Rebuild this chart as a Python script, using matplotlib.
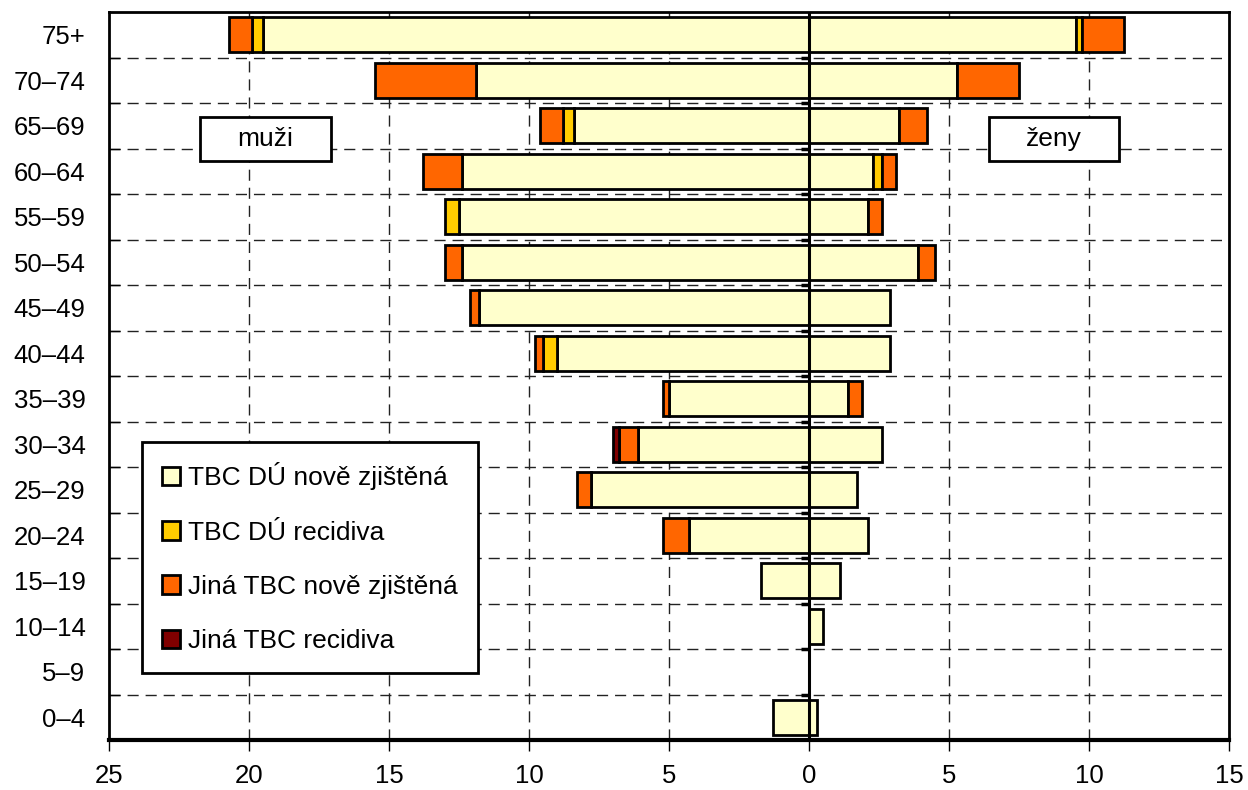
import numpy as np
from matplotlib import pyplot as plt
from matplotlib.patches import Rectangle, Patch

plt.rcParams['font.family'] = ['Liberation Sans', 'DejaVu Sans']

vek = ['0–4', '5–9', '10–14', '15–19', '20–24', '25–29', '30–34', '35–39',
       '40–44', '45–49', '50–54', '55–59', '60–64', '65–69', '70–74', '75+']

# muzi (vykresleno doleva)
m_du_nova = [1.3, 0, 0, 1.7, 4.3, 7.8, 6.1, 5.0, 9.0, 11.8, 12.4, 12.5, 12.4, 8.4, 11.9, 19.5]
m_du_rec = [0, 0, 0, 0, 0, 0, 0, 0, 0.5, 0, 0, 0.5, 0, 0.4, 0, 0.4]
m_jina_nova = [0, 0, 0, 0, 0.9, 0.5, 0.7, 0.2, 0.3, 0.3, 0.6, 0, 1.4, 0.8, 3.6, 0.8]
m_jina_rec = [0, 0, 0, 0, 0, 0, 0.2, 0, 0, 0, 0, 0, 0, 0, 0, 0]

# zeny (doprava)
z_du_nova = [0.3, 0, 0.5, 1.1, 2.1, 1.7, 2.6, 1.4, 2.9, 2.9, 3.9, 2.1, 2.3, 3.2, 5.3, 9.55]
z_du_rec = [0, 0, 0, 0, 0, 0, 0, 0, 0, 0, 0, 0, 0.3, 0, 0, 0.2]
z_jina_nova = [0, 0, 0, 0, 0, 0, 0, 0.5, 0, 0, 0.6, 0.5, 0.5, 1.0, 2.2, 1.5]
z_jina_rec = [0, 0, 0, 0, 0, 0, 0, 0, 0, 0, 0, 0, 0, 0, 0, 0]

nazvy = ['TBC DÚ nově zjištěná', 'TBC DÚ recidiva',
         'Jiná TBC nově zjištěná', 'Jiná TBC recidiva']
barvy = ['#FFFFCC', '#FFCC00', '#FF6600', '#800000']

fig = plt.figure(figsize=(12.48, 7.9), dpi=100)
ax = fig.add_axes([109/1248, 1 - 740/790, 1120/1248, 728/790])

y = np.arange(len(vek))
h = 0.77

# mrizka
for gx in [-20, -15, -10, -5, 5, 10]:
    ax.axvline(gx, color='#222222', lw=1, dashes=(8, 5), zorder=0)
for gy in np.arange(0.5, 15, 1):
    ax.axhline(gy, color='#222222', lw=1, dashes=(8, 5), zorder=0)

m_left = np.zeros(len(vek))
z_left = np.zeros(len(vek))
for serie_m, serie_z, barva in zip([m_du_nova, m_du_rec, m_jina_nova, m_jina_rec],
                                   [z_du_nova, z_du_rec, z_jina_nova, z_jina_rec],
                                   barvy):
    sm = np.array(serie_m)
    sz = np.array(serie_z)
    mask = sm > 0
    ax.barh(y[mask], -sm[mask], left=-m_left[mask], height=h, color=barva,
            edgecolor='black', linewidth=2, zorder=3)
    mask = sz > 0
    ax.barh(y[mask], sz[mask], left=z_left[mask], height=h, color=barva,
            edgecolor='black', linewidth=2, zorder=3)
    m_left += sm
    z_left += sz

ax.axvline(0, color='black', lw=2.2, zorder=4)
# drobne znacky osy y u nuly
ax.hlines(np.arange(0.5, 15, 1), -0.28, 0, color='black', lw=2.5, zorder=4)

ax.set_xlim(-25, 15)
ax.set_ylim(-0.5, 15.5)
ax.set_xticks(np.arange(-25, 16, 5))
ax.set_xticklabels([str(abs(v)) for v in range(-25, 16, 5)], fontsize=18.5)
ax.tick_params(axis='x', direction='out', length=8, width=1, pad=9)
ax.set_yticks(y)
ax.set_yticklabels(vek, fontsize=18.5)
ax.tick_params(axis='y', length=0, pad=17)
ax.set_yticks(np.arange(0.5, 15, 1), minor=True)
ax.tick_params(axis='y', which='minor', direction='in', length=8, width=1)

for s in ax.spines.values():
    s.set_linewidth(2)
ax.spines['bottom'].set_linewidth(3)

# popisky muzi / zeny
for x0, x1, txt in [(-21.75, -17.07, 'muži'), (6.43, 11.07, 'ženy')]:
    ax.add_patch(Rectangle((x0, 12.22), x1 - x0, 0.97, facecolor='white',
                           edgecolor='black', linewidth=2, zorder=5))
    ax.text((x0 + x1) / 2, 12.705, txt, fontsize=19, ha='center', va='center', zorder=6)

handles = [Patch(facecolor=b, edgecolor='black', linewidth=2) for b in barvy]
leg = ax.legend(handles, nazvy, loc='lower left', bbox_to_anchor=(0.0295, 0.092),
                borderaxespad=0, fontsize=19, frameon=True, fancybox=False,
                edgecolor='black', framealpha=1, handlelength=0.7, handleheight=0.7,
                handletextpad=0.3, labelspacing=1.15, borderpad=0.75)
leg.get_frame().set_linewidth(2)
leg.set_zorder(7)

plt.savefig('out.png', dpi=100)
